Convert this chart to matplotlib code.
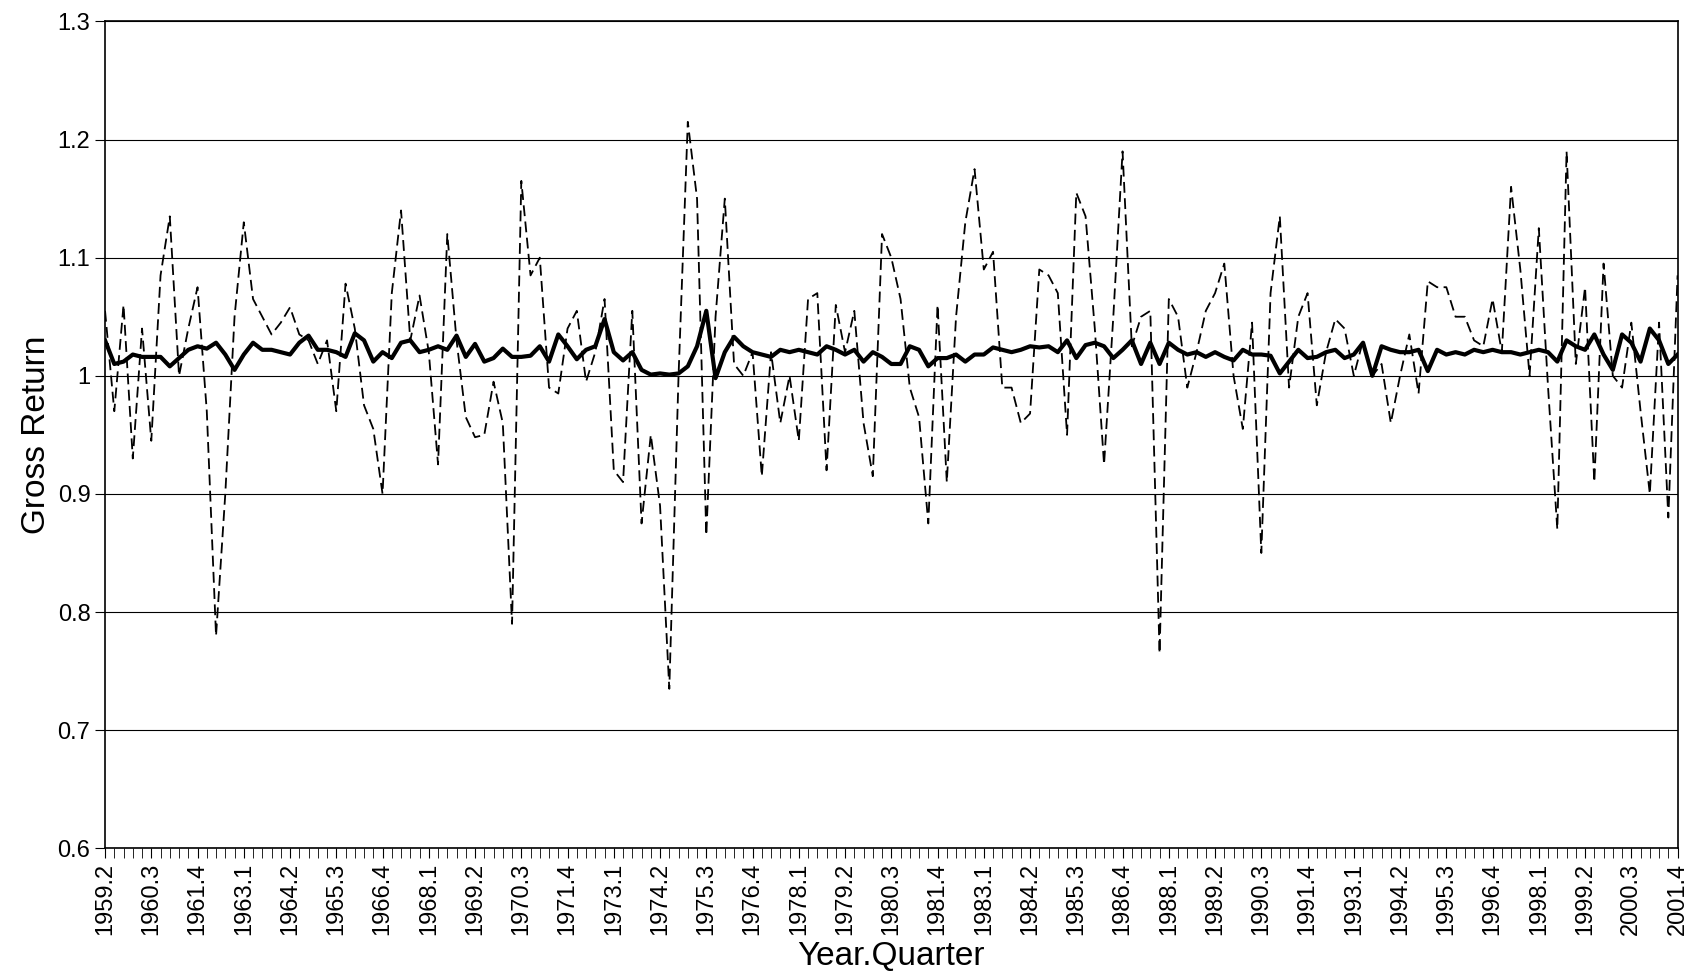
import matplotlib
matplotlib.use("Agg")
import matplotlib.pyplot as plt

plt.rcParams["font.family"] = ["Liberation Sans", "DejaVu Sans"]

# quarterly labels 1959.2 .. 2001.4
quarters = [f"{1959 + (i + 1) // 4}.{(i + 1) % 4 + 1}" for i in range(171)]

# risky asset gross return (dashed)
risky = [
    1.055, 0.97, 1.06, 0.93, 1.04, 0.945, 1.085, 1.135, 1.0, 1.04,
    1.075, 0.97, 0.78, 0.9, 1.05, 1.13, 1.065, 1.05, 1.035, 1.045,
    1.058, 1.035, 1.03, 1.01, 1.03, 0.97, 1.078, 1.04, 0.975, 0.955,
    0.9, 1.07, 1.14, 1.03, 1.068, 1.02, 0.925, 1.12, 1.03, 0.965,
    0.948, 0.95, 0.995, 0.96, 0.79, 1.165, 1.085, 1.1, 0.99, 0.985,
    1.04, 1.055, 0.995, 1.02, 1.065, 0.92, 0.91, 1.055, 0.875, 0.95,
    0.89, 0.735, 1.0, 1.215, 1.15, 0.865, 1.05, 1.15, 1.01, 1.0,
    1.02, 0.915, 1.02, 0.96, 1.0, 0.945, 1.065, 1.07, 0.92, 1.06,
    1.02, 1.055, 0.96, 0.915, 1.12, 1.1, 1.065, 0.99, 0.965, 0.875,
    1.06, 0.91, 1.05, 1.13, 1.175, 1.09, 1.105, 0.99, 0.99,
    0.96, 0.968, 1.09, 1.085, 1.07, 0.95, 1.155, 1.135, 1.04,
    0.925, 1.05, 1.19, 1.025, 1.05, 1.055, 0.765, 1.065, 1.05, 0.99,
    1.02, 1.055, 1.07, 1.095, 1.0, 0.955, 1.045, 0.85, 1.07, 1.135,
    0.99, 1.05, 1.07, 0.975, 1.02, 1.048, 1.04, 1.0, 1.03,
    1.0, 1.01, 0.96, 1.0, 1.035, 0.985, 1.08, 1.075, 1.075, 1.05,
    1.05, 1.03, 1.025, 1.065, 1.02, 1.16, 1.09, 1.0, 1.125, 0.99,
    0.87, 1.19, 1.01, 1.075, 0.91, 1.095, 1.0, 0.99, 1.045, 0.97,
    0.9, 1.045, 0.88, 1.085,
]

# safe asset gross return (solid)
safe = [
    1.03, 1.01, 1.012, 1.018, 1.016, 1.016, 1.016, 1.008, 1.015, 1.022,
    1.025, 1.023, 1.028, 1.018, 1.005, 1.018, 1.028, 1.022, 1.022, 1.02,
    1.018, 1.028, 1.034, 1.022, 1.022, 1.02, 1.016, 1.036, 1.03, 1.012,
    1.02, 1.015, 1.028, 1.03, 1.02, 1.022, 1.025, 1.022, 1.034, 1.016,
    1.027, 1.012, 1.015, 1.023, 1.016, 1.016, 1.017, 1.025, 1.012, 1.035,
    1.025, 1.014, 1.022, 1.025, 1.048, 1.02, 1.013, 1.02, 1.005, 1.001,
    1.002, 1.001, 1.002, 1.008, 1.025, 1.055, 0.998, 1.02, 1.033, 1.025,
    1.02, 1.018, 1.016, 1.022, 1.02, 1.022, 1.02, 1.018, 1.025, 1.022,
    1.018, 1.022, 1.012, 1.02, 1.016, 1.01, 1.01, 1.025, 1.022, 1.008,
    1.015, 1.015, 1.018, 1.012, 1.018, 1.018, 1.024, 1.022, 1.02, 1.022,
    1.025, 1.024, 1.025, 1.02, 1.03, 1.015, 1.026, 1.028, 1.025, 1.015,
    1.022, 1.03, 1.01, 1.028, 1.01, 1.028, 1.022, 1.018, 1.02, 1.016,
    1.02, 1.016, 1.013, 1.022, 1.018, 1.018, 1.017, 1.002, 1.012, 1.022,
    1.015, 1.016, 1.02, 1.022, 1.015, 1.018, 1.028, 1.0, 1.025, 1.022,
    1.02, 1.02, 1.022, 1.004, 1.022, 1.018, 1.02, 1.018, 1.022, 1.02,
    1.022, 1.02, 1.02, 1.018, 1.02, 1.022, 1.02, 1.012, 1.03, 1.025,
    1.022, 1.035, 1.018, 1.005, 1.035, 1.028, 1.012, 1.04, 1.03, 1.01,
    1.018, 1.005, 1.002, 1.02, 1.012,
]

n = min(len(quarters), len(risky), len(safe))
x = list(range(n))

fig = plt.figure(figsize=(16.86, 9.75), dpi=100)
ax = fig.add_axes([0.0623, 0.130, 0.9327, 0.848])

ax.plot(x, risky[:n], color="black", lw=1.3, ls=(0, (6, 3)))
ax.plot(x, safe[:n], color="black", lw=3.0)

ax.set_xlim(0, n - 1)
ax.set_ylim(0.6, 1.3)
ax.set_yticks([0.6, 0.7, 0.8, 0.9, 1.0, 1.1, 1.2, 1.3])
ax.set_yticklabels(["0.6", "0.7", "0.8", "0.9", "1", "1.1", "1.2", "1.3"], fontsize=17)
ax.yaxis.grid(True, color="black", lw=0.8)
ax.set_axisbelow(True)

ax.set_xticks(x, minor=True)
ax.set_xticks(x[::5])
ax.set_xticklabels(quarters[:n:5], rotation=90, fontsize=17)
ax.tick_params(axis="x", which="both", length=7, direction="out")
ax.tick_params(axis="y", length=7)

for s in ax.spines.values():
    s.set_linewidth(1.2)

ax.set_xlabel("Year.Quarter", fontsize=24)
ax.set_ylabel("Gross Return", fontsize=24)

fig.savefig("out.png")
